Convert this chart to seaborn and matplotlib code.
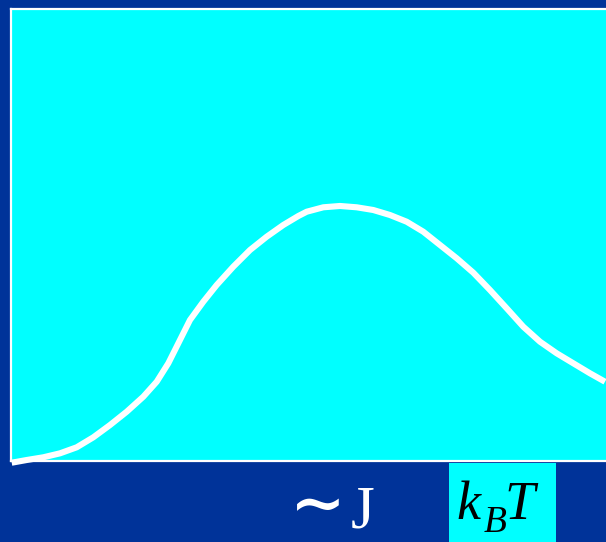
import numpy as np
import pandas as pd
import seaborn as sns
import matplotlib.pyplot as plt
from matplotlib.patches import Rectangle

# curve (arbitrary units, 0..100 both ways)
temp = [0.12, 2.64, 5.43, 8.24, 11.04, 13.83, 16.64, 19.45, 22.24, 24.49,
        26.44, 28.40, 30.08, 32.32, 34.57, 37.36, 40.17, 42.97, 45.76, 48.29,
        49.70, 52.49, 55.29, 58.10, 60.89, 63.70, 66.50, 69.29, 72.10, 74.91,
        77.70, 80.50, 83.31, 86.10, 88.91, 91.71, 94.50, 97.31, 99.83]
heat = [-0.38, 0.22, 0.82, 1.70, 3.03, 5.24, 7.96, 10.91, 14.23, 17.54,
        21.62, 26.77, 31.19, 35.24, 38.94, 42.99, 46.68, 49.62, 52.21, 54.20,
        55.15, 56.13, 56.42, 56.13, 55.53, 54.42, 52.94, 50.73, 47.79, 44.85,
        41.66, 37.83, 33.78, 29.71, 26.39, 23.83, 21.62, 19.40, 17.54]

df = pd.DataFrame({"T": temp, "C": heat})

sns.set_style("white")

bg = "#003399"
cyan = "#00ffff"
fig = plt.figure(figsize=(6.06, 5.42), dpi=100, facecolor=bg)
ax = fig.add_axes([11 / 606, 81 / 542, 595 / 606, 452 / 542])
ax.set_facecolor(cyan)

sns.lineplot(data=df, x="T", y="C", ax=ax, color="white", linewidth=4.4,
             sort=False, clip_on=False, solid_capstyle="butt")
ax.set_xlim(0, 100)
ax.set_ylim(0, 100)
ax.set_xticks([])
ax.set_yticks([])
ax.set_xlabel("")
ax.set_ylabel("")
for side in ["left", "top", "bottom"]:
    ax.spines[side].set_color("white")
    ax.spines[side].set_linewidth(1.6)
ax.spines["right"].set_visible(False)


def px(x, y):
    return x / 606, 1 - y / 542


serif = "Liberation Serif"

# "~J" under the axis
fig.text(*px(290, 526), "\u223c", color="white", fontsize=48,
         family="DejaVu Serif", fontweight="bold", ha="left", va="baseline")
fig.text(*px(351, 528), "J", color="white", fontsize=44, family=serif,
         ha="left", va="baseline")

# k_B T on its cyan patch
fig.patches.append(Rectangle((449 / 606, 0), 107 / 606, 79 / 542,
                             transform=fig.transFigure, facecolor=cyan,
                             edgecolor="none"))
fig.text(*px(456, 519), "k", color="black", fontsize=39, family=serif,
         style="italic", ha="left", va="baseline")
fig.text(*px(484, 532), "B", color="black", fontsize=27, family=serif,
         style="italic", ha="left", va="baseline")
fig.text(*px(504, 519), "T", color="black", fontsize=39, family=serif,
         style="italic", ha="left", va="baseline")

fig.savefig("out.png", dpi=100, facecolor=bg)
